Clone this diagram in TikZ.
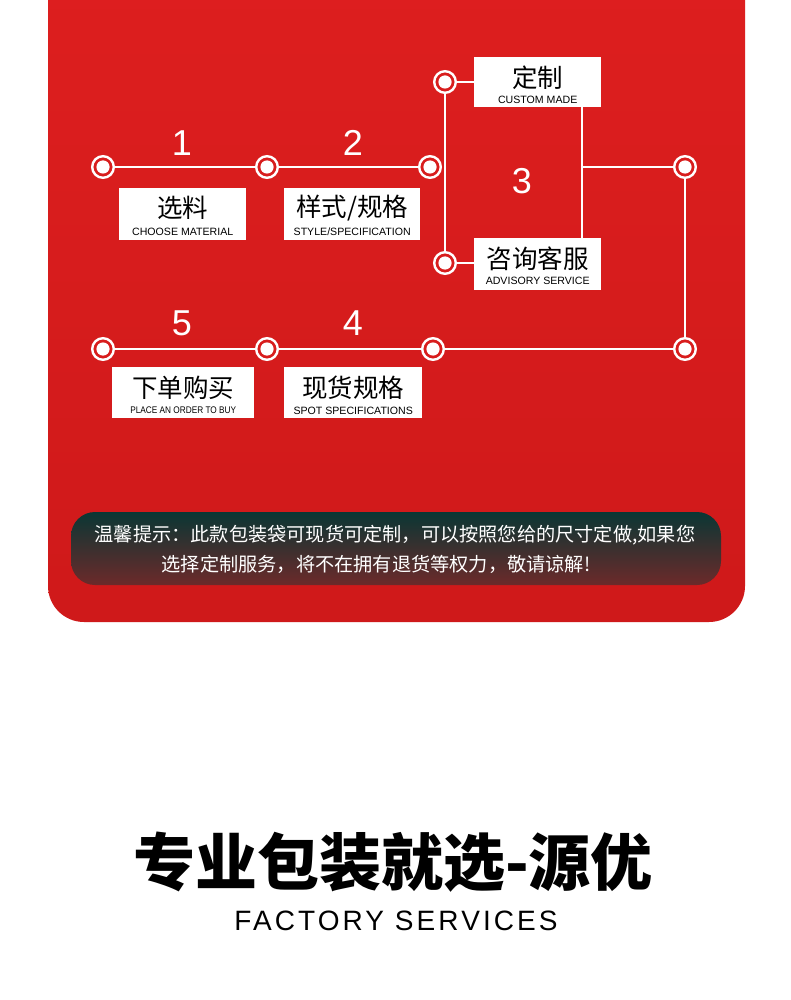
\documentclass[tikz,border=0pt]{standalone}
\usepackage{fontspec}
\setmainfont{Liberation Sans}
\newfontfamily\cjk{Noto Sans CJK SC}
\definecolor{redtop}{RGB}{222,31,31}
\definecolor{redbot}{RGB}{207,25,26}
\definecolor{panelred}{RGB}{216,29,29}
\definecolor{notetop}{RGB}{10,54,52}
\definecolor{notebot}{RGB}{108,42,42}
\begin{document}
\begin{tikzpicture}[x=1pt,y=-1pt,
  ring/.style={circle,draw=white,line width=2.4pt,fill=panelred,minimum size=21.6pt,inner sep=0pt,
    path picture={\fill[white] (path picture bounding box.center) circle (6.6pt);}},
  wire/.style={white,line width=1.8pt},
  pbox/.style={fill=white,inner sep=0pt,anchor=north west},
  num/.style={text=white,font=\fontsize{36}{36}\selectfont,inner sep=0pt},
  cnt/.style={font=\cjk\fontsize{25.5}{27}\selectfont,text=black,inner sep=0pt},
  ent/.style={font=\fontsize{10.6}{12}\selectfont,text=black,inner sep=0pt},
  note/.style={font=\cjk\fontsize{19.2}{22}\selectfont,text=white,inner sep=0pt}]
\useasboundingbox (0,0) rectangle (790,1000);
\fill[white] (0,0) rectangle (790,1000);
% red panel
\shade[top color=redtop,bottom color=redbot,rounded corners=36pt] (48,-60) rectangle (745,622);

% boxes
\node[pbox,minimum width=127pt,minimum height=52pt] (bx1) at (119,188) {};
\node[pbox,minimum width=136pt,minimum height=52pt] (bx2) at (284,188) {};
\node[pbox,minimum width=127pt,minimum height=50pt] (bx3) at (474,57) {};
\node[pbox,minimum width=127pt,minimum height=52pt] (bx4) at (474,238) {};
\node[pbox,minimum width=142pt,minimum height=51pt] (bx5) at (112,367) {};
\node[pbox,minimum width=138pt,minimum height=51pt] (bx6) at (284,367) {};

% circles
\node[ring] (c1) at (103,167) {};
\node[ring] (c2) at (267,167) {};
\node[ring] (c3) at (430,167) {};
\node[ring] (t1) at (445,82) {};
\node[ring] (b1) at (445,263) {};
\node[ring] (r1) at (685,167) {};
\node[ring] (r2) at (685,349) {};
\node[ring] (d1) at (103,349) {};
\node[ring] (d2) at (267,349) {};
\node[ring] (d3) at (433,349) {};
\coordinate (j) at (582,167);

% connectors
\draw[wire] (c1) -- (c2);
\draw[wire] (c2) -- (c3);
\draw[wire] (t1) -- (b1);
\draw[wire] (t1) -- (bx3.west |- t1);
\draw[wire] (b1) -- (bx4.west |- b1);
\draw[wire] (j |- bx3.south) -- (j |- bx4.north);
\draw[wire] (j) -- (r1);
\draw[wire] (r1) -- (r2);
\draw[wire] (r2) -- (d3);
\draw[wire] (d3) -- (d2);
\draw[wire] (d2) -- (d1);

% box texts
\node[cnt] at ([yshift=-20pt]bx1.north) {选料};
\node[ent] at ([yshift=9pt]bx1.south) {CHOOSE MATERIAL};
\node[cnt] at ([yshift=-20pt]bx2.north) {样式/规格};
\node[ent] at ([yshift=9pt]bx2.south) {STYLE/SPECIFICATION};
\node[cnt] at ([yshift=-21pt]bx3.north) {定制};
\node[ent] at ([yshift=7.5pt]bx3.south) {CUSTOM MADE};
\node[cnt] at ([yshift=-21pt]bx4.north) {咨询客服};
\node[ent] at ([yshift=9.5pt]bx4.south) {ADVISORY SERVICE};
\node[cnt] at ([yshift=-21pt]bx5.north) {下单购买};
\node[ent,font=\fontsize{9.6}{11}\selectfont] at ([yshift=8pt]bx5.south) {\scalebox{0.86}[1]{PLACE AN ORDER TO BUY}};
\node[cnt] at ([yshift=-21pt]bx6.north) {现货规格};
\node[ent] at ([yshift=8pt]bx6.south) {SPOT SPECIFICATIONS};

% numbers
\node[num] (n1) at (182,143) {1};
\node[num] (n2) at (353,143) {2};
\node[num] (n3) at (522,181) {3};
\node[num] (n4) at (353,323) {4};
\node[num] (n5) at (182,323) {5};

% notice
\shade[top color=notetop,bottom color=notebot,rounded corners=24pt] (71,512) rectangle (721,585);
\node[note] (nt1) at (395,535) {温馨提示：此款包装袋可现货可定制，可以按照您给的尺寸定做,如果您};
\node[note] (nt2) at (376,564) {选择定制服务，将不在拥有退货等权力，敬请谅解!};

% title
\node[inner sep=0pt,font=\cjk\bfseries\fontsize{62}{66}\selectfont] (title) at (393,862) {专业包装就选-源优};
\node[inner sep=0pt,font=\fontsize{28}{30}\selectfont] (sub) at (396,921) {\addfontfeature{LetterSpace=11}FACTORY SERVICES};
\end{tikzpicture}
\end{document}
